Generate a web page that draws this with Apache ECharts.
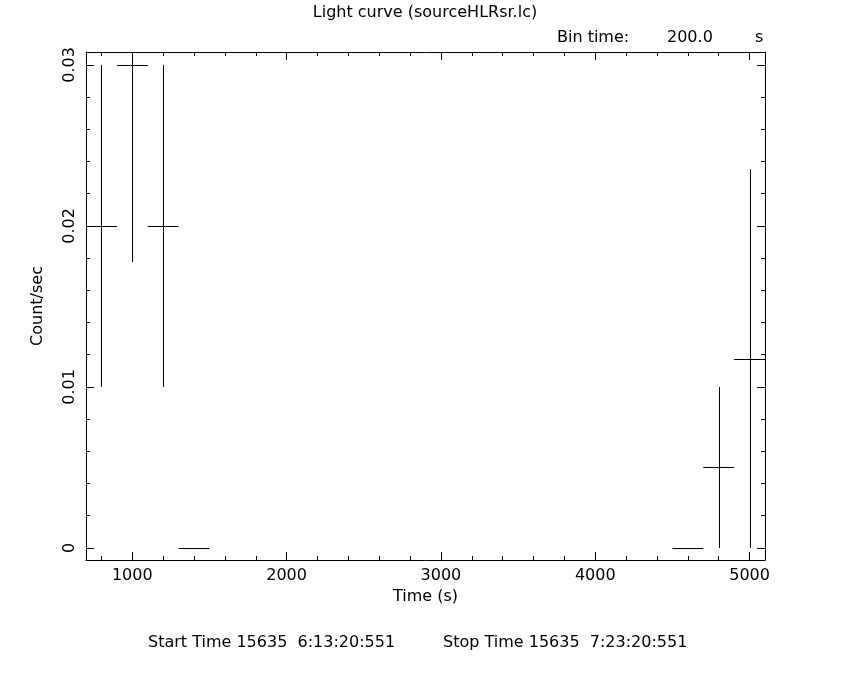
<!DOCTYPE html>
<html>
<head>
<meta charset="utf-8">
<script src="https://cdn.jsdelivr.net/npm/echarts@6/dist/echarts.min.js"></script>
<style>html,body{margin:0;padding:0;background:#fff}#chart{width:850px;height:680px}</style>
</head>
<body>
<div id="chart"></div>
<script>
// ---- data ----
var binCenters = [800, 1000, 1200, 1400, 4600, 4800, 5000];
var binHalfWidths = [100, 100, 100, 100, 100, 100, 100];
var rates = [0.02, 0.03, 0.02, 0, 0, 0.005, 0.01176];
var rateErrors = [0.01, 0.01225, 0.01, 0, 0, 0.005, 0.01176];
var xMajorTicks = [1000, 2000, 3000, 4000, 5000];
var xMinorTicks = [800, 1200, 1400, 1600, 1800, 2200, 2400, 2600, 2800, 3200, 3400, 3600, 3800, 4200, 4400, 4600, 4800];
var yMajorTicks = [0, 0.01, 0.02, 0.03];
var yMinorTicks = [0.002, 0.004, 0.006, 0.008, 0.012, 0.014, 0.016, 0.018, 0.022, 0.024, 0.026, 0.028, 0.03];
var xTickLabels = ['1000', '2000', '3000', '4000', '5000'];
var yTickLabels = ['0', '0.01', '0.02', '0.03'];
var titleText = 'Light curve (sourceHLRsr.lc)';
var startText = 'Start Time 15635  6:13:20:551';
var stopText = 'Stop Time 15635  7:23:20:551';

var FONT = 'DejaVu Sans';
var FS = 16;
var chart = echarts.init(document.getElementById('chart'), null, {renderer: 'canvas'});

var seriesData = binCenters.map(function (c, i) {
  return [c, rates[i], binHalfWidths[i], rateErrors[i]];
});

function lookup(values, labels, v) {
  for (var k = 0; k < values.length; k++) { if (Math.abs(values[k] - v) < 1e-9) return labels[k]; }
  return '';
}

function makeX(pos, len, ticks, main) {
  return {
    type: 'value', position: pos, min: 700, max: 5100, gridIndex: 0,
    axisLine: {show: main, onZero: false, lineStyle: {color: '#000', width: 1}},
    axisTick: {show: true, inside: true, length: len, customValues: ticks, lineStyle: {color: '#000', width: 1}},
    axisLabel: {
      show: main && pos === 'bottom', customValues: xMajorTicks, color: '#000', fontFamily: FONT, fontSize: FS, margin: 8,
      formatter: function (v) { return lookup(xMajorTicks, xTickLabels, v); }
    },
    splitLine: {show: false},
    name: (main && pos === 'bottom') ? 'Time (s)' : '',
    nameLocation: 'middle', nameGap: 29,
    nameTextStyle: {color: '#000', fontFamily: FONT, fontSize: FS}
  };
}
function makeY(pos, len, ticks, main) {
  return {
    type: 'value', position: pos, min: -0.00075, max: 0.0308, gridIndex: 0,
    axisLine: {show: main, onZero: false, lineStyle: {color: '#000', width: 1}},
    axisTick: {show: true, inside: true, length: len, customValues: ticks, lineStyle: {color: '#000', width: 1}},
    axisLabel: {
      show: main && pos === 'left', customValues: yMajorTicks, rotate: 90, color: '#000',
      fontFamily: FONT, fontSize: FS, margin: 8,
      formatter: function (v) { return lookup(yMajorTicks, yTickLabels, v); }
    },
    splitLine: {show: false},
    name: (main && pos === 'left') ? 'Count/sec' : '',
    nameLocation: 'middle', nameGap: 40, nameRotate: 90,
    nameTextStyle: {color: '#000', fontFamily: FONT, fontSize: FS}
  };
}

var font = FS + 'px "' + FONT + '"';
var option = {
  backgroundColor: '#fff',
  animation: false,
  grid: {left: 86, right: 85, top: 52, bottom: 120, containLabel: false},
  xAxis: [
    makeX('bottom', 8, xMajorTicks, true),
    makeX('bottom', 4, xMinorTicks, false),
    makeX('top', 8, xMajorTicks, true),
    makeX('top', 4, xMinorTicks, false)
  ],
  yAxis: [
    makeY('left', 8, yMajorTicks, true),
    makeY('left', 4, yMinorTicks, false),
    makeY('right', 8, yMajorTicks, true),
    makeY('right', 4, yMinorTicks, false)
  ],
  graphic: [
    {type: 'text', left: 'center', top: 5, style: {text: titleText, fill: '#000', font: font}},
    {type: 'text', left: 557, top: 30, style: {text: 'Bin time:', fill: '#000', font: font}},
    {type: 'text', left: 667, top: 30, style: {text: '200.0', fill: '#000', font: font}},
    {type: 'text', left: 755, top: 30, style: {text: 's', fill: '#000', font: font}},
    {type: 'text', left: 148, top: 635, style: {text: startText, fill: '#000', font: font}},
    {type: 'text', left: 443, top: 635, style: {text: stopText, fill: '#000', font: font}}
  ],
  series: [{
    type: 'custom',
    xAxisIndex: 0, yAxisIndex: 0,
    clip: true,
    data: seriesData,
    renderItem: function (params, api) {
      var x = api.value(0), y = api.value(1), xe = api.value(2), ye = api.value(3);
      var cs = params.coordSys;
      var x0 = cs.x, x1 = cs.x + cs.width, y0 = cs.y, y1 = cs.y + cs.height;
      function cx(v) { return Math.min(Math.max(v, x0), x1); }
      function cy(v) { return Math.min(Math.max(v, y0), y1); }
      var l = api.coord([x - xe, y]), r = api.coord([x + xe, y]);
      var b = api.coord([x, y - ye]), t = api.coord([x, y + ye]);
      var py = Math.round(l[1]) + 0.5;
      var px = Math.round(b[0]) + 0.5;
      var children = [{
        type: 'line',
        shape: {x1: cx(l[0]), y1: py, x2: cx(r[0]), y2: py},
        style: {stroke: '#000', lineWidth: 1}
      }];
      if (ye > 0) {
        children.push({
          type: 'line',
          shape: {x1: px, y1: cy(b[1]), x2: px, y2: cy(t[1])},
          style: {stroke: '#000', lineWidth: 1}
        });
      }
      return {type: 'group', children: children};
    }
  }]
};
chart.setOption(option);
</script>
</body>
</html>
